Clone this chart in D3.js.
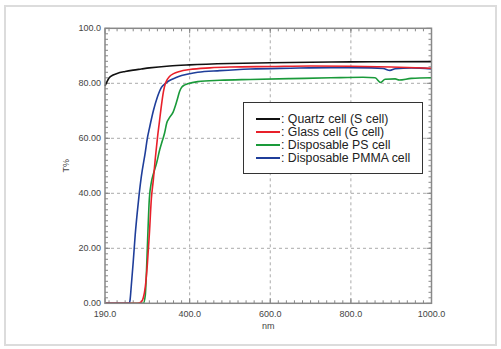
<!DOCTYPE html>
<html><head><meta charset="utf-8">
<script src="https://cdn.jsdelivr.net/npm/d3@7"></script>
<style>body{margin:0;background:#fff}svg{display:block}text{font-family:"Liberation Sans",Arial,sans-serif}</style>
</head><body><svg id="c" width="501" height="349"></svg>
<script>
const seriesNames = [": Quartz cell (S cell)", ": Glass cell (G cell)", ": Disposable PS cell", ": Disposable PMMA cell"];
const seriesColors = ["#111111", "#e8202a", "#1a9a3a", "#1f3e9a"];
const xTicks = [190, 400, 600, 800, 1000];
const xTickLabels = ["190.0", "400.0", "600.0", "800.0", "1000.0"];
const yTicks = [0, 20, 40, 60, 80, 100];
const yTickLabels = ["0.00", "20.00", "40.00", "60.00", "80.00", "100.0"];

const quartzNm = [190,195,200,210,220,240,260,280,300,350,400,500,600,800,1000];
const quartzT  = [79.0,80.6,81.9,83.0,83.6,84.3,84.8,85.2,85.6,86.3,86.7,87.2,87.5,87.8,87.9];

const glassNm = [190,270,280,285,290,295,300,305,310,315,320,325,330,335,340,345,350,360,375,400,450,500,600,700,800,900,1000];
const glassT  = [0,0,0.5,2,6,14,25,38,45,53,60,66,72,77,80,81.5,82.5,83.5,84.3,85,85.6,85.9,86.1,86.3,86.2,85.9,85.5];

const psNm = [190,285,290,293,295,297,300,305,310,318,326,332,338,343,350,359,365,370,375,380,385,395,420,475,550,650,750,830,860,874,885,910,920,950,1000];
const psT  = [0,0,3,12,20,28,38,44,47,51,56,59,62,65.5,67.5,69.5,72,74.5,77,78.5,79.2,79.8,80.6,81.1,81.4,81.7,82,82.2,82,80.3,81.5,81.6,81.2,81.8,82];

const pmmaNm = [190,250,252,255,260,265,270,275,280,290,295,300,310,320,330,340,350,365,380,400,420,475,550,650,750,850,880,897,910,950,1000];
const pmmaT  = [0,0,1,6,15,25,33,40,46,55,60,63.5,70,75,78.5,80,81,82,82.8,83.5,84,84.6,85.2,85.5,85.7,85.6,85.4,84.7,85.3,85.6,85.2];

const svg = d3.select("#c");
svg.append("rect").attr("x",5).attr("y",6).attr("width",491).attr("height",339)
  .attr("fill","#fff").attr("stroke","#dcdcdc").attr("stroke-width",2);

const L=105, R=431.5, T=28.3, B=303.3;
const x = d3.scaleLinear().domain([190,1000]).range([L,R]);
const y = d3.scaleLinear().domain([0,100]).range([B,T]);

// grid
const g = svg.append("g");
g.selectAll(".gx").data(xTicks.slice(1,-1)).join("line")
  .attr("x1",d=>x(d)).attr("x2",d=>x(d)).attr("y1",T).attr("y2",B)
  .attr("stroke","#aaa").attr("stroke-dasharray","3,3").attr("stroke-width",1);
g.selectAll(".gy").data(yTicks.slice(1,-1)).join("line")
  .attr("y1",d=>y(d)).attr("y2",d=>y(d)).attr("x1",L).attr("x2",R)
  .attr("stroke","#aaa").attr("stroke-dasharray","3,3").attr("stroke-width",1);

// minor ticks, inward on all sides
const xMinor = d3.range(200, 1000, 20);
const yMinor = d3.range(2, 100, 2);
const tk = svg.append("g").attr("stroke","#888").attr("stroke-width",1);
[[B,-1],[T,1]].forEach(([yy,dir])=>{
  tk.selectAll(null).data(xMinor).join("line")
    .attr("x1",d=>x(d)).attr("x2",d=>x(d)).attr("y1",yy).attr("y2",yy+dir*3);
  tk.selectAll(null).data(xTicks).join("line")
    .attr("x1",d=>x(d)).attr("x2",d=>x(d)).attr("y1",yy).attr("y2",yy+dir*5);
});
[[L,1],[R,-1]].forEach(([xx,dir])=>{
  tk.selectAll(null).data(yMinor).join("line")
    .attr("y1",d=>y(d)).attr("y2",d=>y(d)).attr("x1",xx).attr("x2",xx+dir*3);
  tk.selectAll(null).data(yTicks).join("line")
    .attr("y1",d=>y(d)).attr("y2",d=>y(d)).attr("x1",xx).attr("x2",xx+dir*5);
});

// curves
const line = d3.line().x(d=>x(d[0])).y(d=>y(d[1])).curve(d3.curveMonotoneX);
const zip = (a,b)=>a.map((v,i)=>[v,b[i]]);
const drawOrder = [
  [zip(psNm,psT), seriesColors[2]],
  [zip(pmmaNm,pmmaT), seriesColors[3]],
  [zip(glassNm,glassT), seriesColors[1]],
  [zip(quartzNm,quartzT), seriesColors[0]]
];
drawOrder.forEach(([d,c])=>{
  svg.append("path").datum(d).attr("d",line).attr("fill","none")
    .attr("stroke",c).attr("stroke-width",1.6).attr("stroke-linejoin","round");
});

// frame
svg.append("rect").attr("x",L).attr("y",T).attr("width",R-L).attr("height",B-T)
  .attr("fill","none").attr("stroke","#888").attr("stroke-width",1.5);

// tick labels
svg.selectAll(".xl").data(xTicks).join("text")
  .attr("x",d=>x(d)).attr("y",317).attr("text-anchor","middle")
  .attr("font-size",9).attr("fill","#444").text((d,i)=>xTickLabels[i]);
svg.selectAll(".yl").data(yTicks).join("text")
  .attr("x",101).attr("y",d=>y(d)+3).attr("text-anchor","end")
  .attr("font-size",9).attr("fill","#444").text((d,i)=>yTickLabels[i]);
svg.append("text").attr("x",(L+R)/2).attr("y",329).attr("text-anchor","middle")
  .attr("font-size",9).attr("fill","#444").text("nm");
svg.append("text").attr("transform",`translate(69,${(T+B)/2}) rotate(-90)`)
  .attr("text-anchor","middle").attr("font-size",9).attr("fill","#444").text("T%");

// legend
const lg = svg.append("g");
lg.append("rect").attr("x",243.5).attr("y",102.5).attr("width",179).attr("height",71)
  .attr("fill","#fff").attr("stroke","#333").attr("stroke-width",1);
seriesNames.forEach((n,i)=>{
  const yy = 119 + i*13;
  lg.append("line").attr("x1",256).attr("x2",280).attr("y1",yy).attr("y2",yy)
    .attr("stroke",seriesColors[i]).attr("stroke-width",2);
  lg.append("text").attr("x",281).attr("y",yy+4.2).attr("font-size",12.3)
    .attr("fill","#222").text(n);
});
</script></body></html>
